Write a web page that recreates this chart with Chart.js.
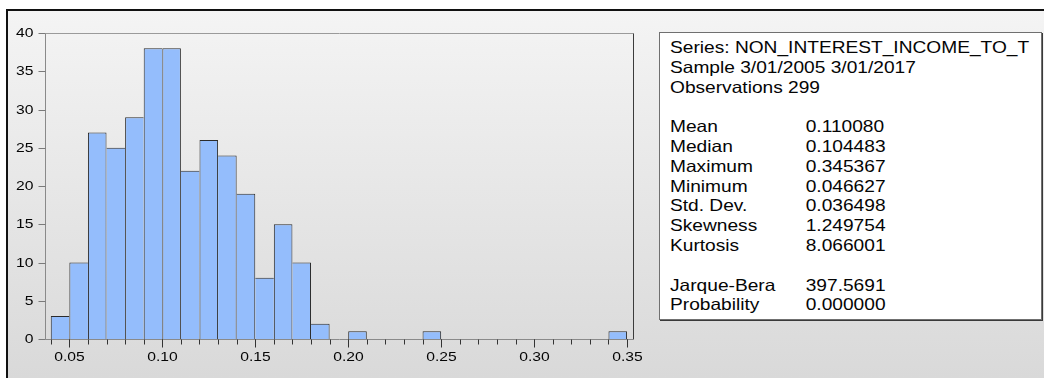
<!DOCTYPE html>
<html>
<head>
<meta charset="utf-8">
<title>NON_INTEREST_INCOME_TO_T histogram</title>
<script src="https://cdn.jsdelivr.net/npm/chart.js@4.4.1/dist/chart.umd.min.js"></script>
<style>
  html, body { margin: 0; padding: 0; background: #fff; width: 1044px; height: 378px; overflow: hidden; }
  #frame {
    position: absolute; left: 6px; top: 9px; width: 1038px; height: 369px; box-sizing: border-box;
    border-top: 2px solid #111; border-left: 2px solid #111;
    background: linear-gradient(#f4f4f4, #d9d9d9);
  }
  #wrap { position: absolute; left: 0; top: 0; width: 650px; height: 378px; }
  #stats {
    position: absolute; left: 659px; top: 32px; width: 383px; height: 288px; box-sizing: border-box;
    background: #fff; border: 1px solid #707070; box-shadow: 1px 1px 0 #3a3a3a;
  }
  #statsText {
    position: absolute; left: 10px; top: 5px; transform: scaleX(1.16); transform-origin: 0 0;
    font-family: "Liberation Sans", Arial, sans-serif; font-size: 16.5px; line-height: 19.8px;
    color: #050505; white-space: nowrap;
  }
  .lab { display: inline-block; width: 117px; }
  .row { height: 19.8px; }
</style>
</head>
<body>
<div id="frame"></div>
<div id="wrap"><canvas id="hist"></canvas></div>
<div id="stats"><div id="statsText"></div></div>
<script>
// Histogram bins (left edges) and observation counts per bin
const binStarts = [0.04, 0.05, 0.06, 0.07, 0.08, 0.09, 0.10, 0.11, 0.12, 0.13,
                   0.14, 0.15, 0.16, 0.17, 0.18, 0.19, 0.20, 0.21, 0.22, 0.23,
                   0.24, 0.25, 0.26, 0.27, 0.28, 0.29, 0.30, 0.31, 0.32, 0.33, 0.34];
const counts    = [3, 10, 27, 25, 29, 38, 38, 22, 26, 24,
                   19, 8, 15, 10, 2, 0, 1, 0, 0, 0,
                   1, 0, 0, 0, 0, 0, 0, 0, 0, 0, 1];
const binWidth = 0.01;

// Axis ticks
const xTickValues = [0.05, 0.10, 0.15, 0.20, 0.25, 0.30, 0.35];
const xTickLabels = ['0.05', '0.10', '0.15', '0.20', '0.25', '0.30', '0.35'];
const yTickValues = [0, 5, 10, 15, 20, 25, 30, 35, 40];
const yTickLabels = ['0', '5', '10', '15', '20', '25', '30', '35', '40'];

// Descriptive statistics panel
const headerLines = ['Series: NON_INTEREST_INCOME_TO_T', 'Sample 3/01/2005 3/01/2017', 'Observations 299'];
const statNames   = ['Mean', 'Median', 'Maximum', 'Minimum', 'Std. Dev.', 'Skewness', 'Kurtosis'];
const statValues  = ['0.110080', '0.104483', '0.345367', '0.046627', '0.036498', '1.249754', '8.066001'];
const testNames   = ['Jarque-Bera', 'Probability'];
const testValues  = ['397.5691', '0.000000'];

// Build the statistics text block
(function buildStats() {
  const box = document.getElementById('statsText');
  const add = (label, value) => {
    const row = document.createElement('div');
    row.className = 'row';
    if (value === undefined) {
      row.textContent = label;
    } else {
      const l = document.createElement('span'); l.className = 'lab'; l.textContent = label;
      const v = document.createElement('span'); v.textContent = value;
      row.appendChild(l); row.appendChild(v);
    }
    box.appendChild(row);
  };
  headerLines.forEach(h => add(h));
  add('\u00a0');
  statNames.forEach((n, i) => add(n, statValues[i]));
  add('\u00a0');
  testNames.forEach((n, i) => add(n, testValues[i]));
})();

const TEXT_STRETCH = 1.16;
const TICK_FONT = '13.5px "Liberation Sans", Arial, sans-serif';

function stretchedText(ctx, txt, x, y, align) {
  ctx.save();
  ctx.translate(x, y);
  ctx.scale(TEXT_STRETCH, 1);
  ctx.textAlign = align;
  ctx.textBaseline = 'middle';
  ctx.fillText(txt, 0, 0);
  ctx.restore();
}

// Draws the plot frame, axis lines, tick marks and tick labels
const axesPlugin = {
  id: 'histAxes',
  afterDatasetsDraw(chart) {
    const { ctx, chartArea: a, scales: { x, y } } = chart;
    const L = Math.round(a.left) + 0.5, R = Math.round(a.right) + 0.5;
    const T = Math.round(a.top) + 0.5, B = Math.round(a.bottom) + 0.5;
    ctx.save();
    ctx.lineWidth = 1;

    // frame: top edge grey, right edge dark
    ctx.strokeStyle = '#9a9a9a';
    ctx.beginPath(); ctx.moveTo(L, T); ctx.lineTo(R, T); ctx.stroke();
    ctx.strokeStyle = '#3c3c3c';
    ctx.beginPath(); ctx.moveTo(R, T); ctx.lineTo(R, B); ctx.stroke();

    // axis lines
    ctx.strokeStyle = '#8a8a8a';
    ctx.beginPath(); ctx.moveTo(L, T); ctx.lineTo(L, B); ctx.lineTo(R, B); ctx.stroke();

    // y ticks
    ctx.strokeStyle = '#7a7a7a';
    ctx.fillStyle = '#050505';
    ctx.font = TICK_FONT;
    yTickValues.forEach((v, i) => {
      const py = Math.round(y.getPixelForValue(v)) + 0.5;
      ctx.beginPath(); ctx.moveTo(L - 7, py); ctx.lineTo(L, py); ctx.stroke();
      stretchedText(ctx, yTickLabels[i], L - 12, py, 'right');
    });

    // x minor ticks at each bin edge
    ctx.strokeStyle = '#333';
    const edges = binStarts.concat([binStarts[binStarts.length - 1] + binWidth]);
    edges.forEach(v => {
      const px = Math.round(x.getPixelForValue(v)) + 0.5;
      ctx.beginPath(); ctx.moveTo(px, B); ctx.lineTo(px, B + 5); ctx.stroke();
    });
    // x major ticks with labels
    xTickValues.forEach((v, i) => {
      const px = Math.round(x.getPixelForValue(v)) + 0.5;
      ctx.beginPath(); ctx.moveTo(px, B); ctx.lineTo(px, B + 8); ctx.stroke();
      stretchedText(ctx, xTickLabels[i], px, B + 18, 'center');
    });
    ctx.restore();
  }
};

function edgeWidths(c) {
  const i = c.dataIndex;
  const n = counts[i];
  const prev = i > 0 ? counts[i - 1] : 0;
  const next = i < counts.length - 1 ? counts[i + 1] : 0;
  return { top: 1, left: n >= prev ? 1 : 0, right: n > next ? 1 : 0, bottom: 0 };
}

new Chart(document.getElementById('hist'), {
  type: 'bar',
  data: {
    datasets: [{
      data: binStarts.map((s, i) => ({ x: s + binWidth / 2, y: counts[i] })),
      backgroundColor: '#94bdfc',
      borderColor: '#2b2b2b',
      borderWidth: edgeWidths,
      borderSkipped: false,
      barPercentage: 1,
      categoryPercentage: 1,
      inflateAmount: 0
    }]
  },
  options: {
    responsive: true,
    maintainAspectRatio: false,
    animation: false,
    devicePixelRatio: 1,
    layout: { padding: { top: 33, right: 17, left: 0, bottom: 0 } },
    plugins: { legend: { display: false }, tooltip: { enabled: false } },
    scales: {
      x: {
        type: 'linear', min: 0.0369, max: 0.3532, offset: false,
        ticks: { display: false }, grid: { display: false }, border: { display: false },
        afterFit(s) { s.height = 39; }
      },
      y: {
        min: 0, max: 40,
        ticks: { display: false }, grid: { display: false }, border: { display: false },
        afterFit(s) { s.width = 45; }
      }
    }
  },
  plugins: [axesPlugin]
});
</script>
</body>
</html>
